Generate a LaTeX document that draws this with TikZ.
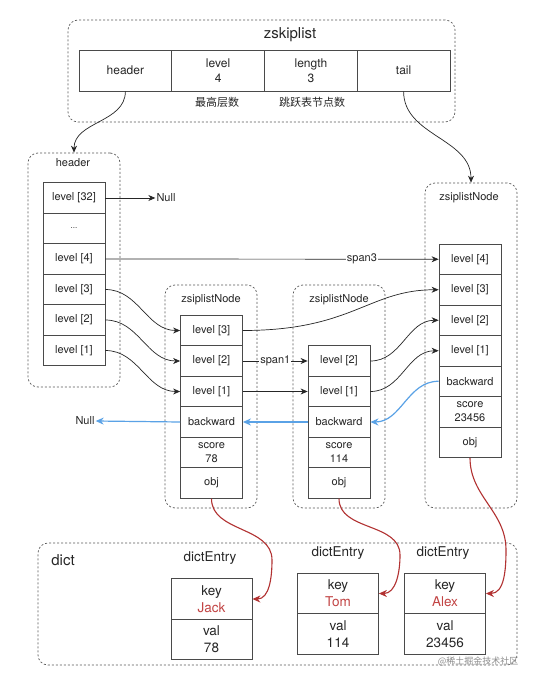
\documentclass[tikz,border=0pt]{standalone}
\usepackage{fontspec}
\setmainfont{TeX Gyre Heros}
\newfontfamily\cjk{Noto Sans CJK SC}
\usetikzlibrary{arrows.meta}
\newcommand\fsz[2]{\fontsize{#1}{#2}\selectfont}
\definecolor{txt}{HTML}{262626}
\definecolor{ln}{HTML}{4A4A4A}
\definecolor{bl}{HTML}{5AA2E6}
\definecolor{rd}{HTML}{B23232}
\definecolor{rt}{HTML}{C24444}
\begin{document}
\begin{tikzpicture}[x=1pt,y=1pt,
  cell/.style={draw=ln, line width=0.8pt, minimum width=62pt, minimum height=30.5pt, inner sep=0pt, align=center, font=\fsz{11}{13.5}, text=txt},
  tcell/.style={draw=ln, line width=0.8pt, minimum width=92.75pt, minimum height=41pt, inner sep=0pt, align=center, font=\fsz{12}{15}, text=txt},
  dcell/.style={draw=ln, line width=0.8pt, minimum width=81pt, minimum height=40.5pt, inner sep=0pt, align=center, font=\fsz{13.5}{17}, text=txt},
  grp/.style={draw=black!65, line width=0.7pt, dash pattern=on 2pt off 2pt, rounded corners=10pt, inner sep=0pt},
  lbl/.style={font=\fsz{11}{13}, text=txt, inner sep=1pt},
  arr/.style={-{Stealth[length=7pt,width=6pt]}, draw=black!85, line width=0.7pt},
  barr/.style={-{Stealth[length=8pt,width=7pt]}, draw=bl, line width=1.2pt},
  rarr/.style={-{Stealth[length=8pt,width=7pt]}, draw=rd, line width=1.1pt}]
\useasboundingbox (0,0) rectangle (549,-684);
\fill[white] (0,0) rectangle (549,-684);

% groups
\node[grp, minimum width=387pt, minimum height=102pt] (zs) at (261.5,-71) {};
\node[font=\fsz{15}{18}, text=txt] at (290,-35) {zskiplist};
\node[grp, minimum width=92pt, minimum height=234pt] (hbox) at (74,-270) {};
\node[lbl] at (73,-163) {header};
\node[grp, minimum width=92pt, minimum height=223pt] (n1) at (211,-396.5) {};
\node[lbl] at (211,-300) {zsiplistNode};
\node[grp, minimum width=92pt, minimum height=223pt] (n2) at (339,-396.5) {};
\node[lbl] at (339,-300) {zsiplistNode};
\node[grp, minimum width=92pt, minimum height=325pt] (n3) at (471,-345.5) {};
\node[lbl] at (469,-198) {zsiplistNode};
\node[grp, minimum width=479pt, minimum height=122pt] (dict) at (277.5,-604) {};
\node[font=\fsz{15}{18}, text=txt] at (63,-560) {dict};

% zskiplist table
\node[tcell] (thd) at (125.4,-70.5) {header};
\node[tcell] (tlv) at (218.1,-70.5) {level\\4};
\node[tcell] (tln) at (310.9,-70.5) {length\\3};
\node[tcell] (ttl) at (403.6,-70.5) {tail};
\node[lbl, font=\cjk\fsz{11}{13}] at (217,-102) {最高层数};
\node[lbl, font=\cjk\fsz{11}{13}] at (312,-102) {跳跃表节点数};

% header cells
\node[cell] (h32) at (74,-198) {level [32]};
\node[cell, font=\fsz{8}{10}] (hdt) at (74,-228.5) {...};
\node[cell] (h4) at (74,-259) {level [4]};
\node[cell] (h3) at (74,-289.5) {level [3]};
\node[cell] (h2) at (74,-320) {level [2]};
\node[cell] (h1) at (74,-350.5) {level [1]};
\node[lbl] (null1) at (166,-198) {Null};

% node 1
\node[cell] (a3) at (211.5,-330.5) {level [3]};
\node[cell] (a2) at (211.5,-361) {level [2]};
\node[cell] (a1) at (211.5,-391.5) {level [1]};
\node[cell] (ab) at (211.5,-422) {backward};
\node[cell] (as) at (211.5,-452.5) {score\\78};
\node[cell] (ao) at (211.5,-483) {obj};

% node 2
\node[cell] (b2) at (339,-361) {level [2]};
\node[cell] (b1) at (339,-391.5) {level [1]};
\node[cell] (bb) at (339,-422) {backward};
\node[cell] (bs) at (339,-452.5) {score\\114};
\node[cell] (bo) at (339,-483) {obj};

% node 3
\node[cell] (c4) at (470,-259.25) {level [4]};
\node[cell] (c3) at (470,-289.75) {level [3]};
\node[cell] (c2) at (470,-320.25) {level [2]};
\node[cell] (c1) at (470,-350.75) {level [1]};
\node[cell] (cb) at (470,-381.25) {backward};
\node[cell] (cs) at (470,-411.75) {score\\23456};
\node[cell] (co) at (470,-442.25) {obj};

\node[lbl] (null2) at (85,-421) {Null};

% dict entries
\node[font=\fsz{13.5}{16}, text=txt] at (210,-558) {dictEntry};
\node[font=\fsz{13.5}{16}, text=txt] at (338,-553) {dictEntry};
\node[font=\fsz{13.5}{16}, text=txt] at (443,-553) {dictEntry};
\node[dcell] (jk) at (211.5,-599) {key\\\textcolor{rt}{Jack}};
\node[dcell] (jv) at (211.5,-639.5) {val\\78};
\node[dcell] (tk) at (338,-593.5) {key\\\textcolor{rt}{Tom}};
\node[dcell] (tv) at (338,-634) {val\\114};
\node[dcell] (ak) at (445,-593.5) {key\\\textcolor{rt}{Alex}};
\node[dcell] (av) at (445,-634) {val\\23456};

\node[font=\cjk\fsz{9}{11}, text=black!45] at (478,-661) {@稀土掘金技术社区};

% arrows
\draw[arr] (thd.south) to[out=-90,in=90] (hbox.north);
\draw[arr] (ttl.south) to[out=-90,in=90] (n3.north);
\draw[arr] (h32.east) -- (null1.west);
\draw[arr] (h4.east) -- node[pos=0.77, fill=white, inner sep=1pt, font=\fsz{11}{13}, text=txt] {span3} (c4.west);
\draw[arr] (h3.east) to[out=0,in=180] (a3.west);
\draw[arr] (h2.east) to[out=0,in=180] (a2.west);
\draw[arr] (h1.east) to[out=0,in=180] (a1.west);
\draw[arr] (a3.east) .. controls +(110,0) and +(-70,0) .. (c3.west);
\draw[arr] (a2.east) -- node[pos=0.5, fill=white, inner sep=1pt, font=\fsz{11}{13}, text=txt] {span1} (b2.west);
\draw[arr] (a1.east) -- (b1.west);
\draw[arr] (b2.east) to[out=0,in=180] (c2.west);
\draw[arr] (b1.east) to[out=0,in=180] (c1.west);
\draw[barr] (cb.west) to[out=180,in=0] (bb.east);
\draw[barr] (bb.west) -- (ab.east);
\draw[barr] (ab.west) -- (null2.east);
\draw[rarr] (ao.south) to[out=-90,in=90] (272,-560) to[out=-90,in=0] (jk.east);
\draw[rarr] (bo.south) to[out=-90,in=90] (400,-555) to[out=-90,in=0] (tk.east);
\draw[rarr] (co.south) to[out=-90,in=90] (506,-550) to[out=-90,in=0] (ak.east);
\end{tikzpicture}
\end{document}
